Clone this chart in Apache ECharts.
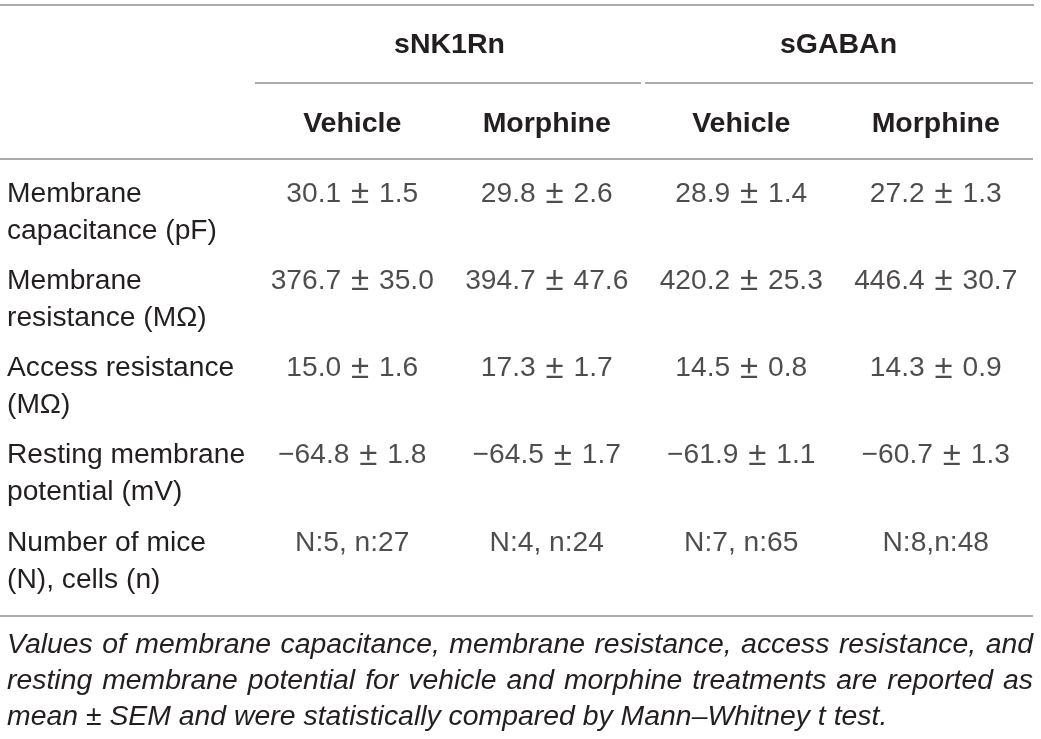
<!DOCTYPE html>
<html>
<head>
<meta charset="utf-8">
<script src="https://cdn.jsdelivr.net/npm/echarts@6/dist/echarts.min.js"></script>
<style>
  html, body { margin: 0; padding: 0; background: #fff; }
  #main { width: 1041px; height: 739px; }
</style>
</head>
<body>
<div id="main"></div>
<script>
// table contents
var groups = ["sNK1Rn", "sGABAn"];
var columns = ["Vehicle", "Morphine", "Vehicle", "Morphine"];
var rows = [
    "Membrane\ncapacitance (pF)",
    "Membrane\nresistance (MΩ)",
    "Access resistance\n(MΩ)",
    "Resting membrane\npotential (mV)",
    "Number of mice\n(N), cells (n)"
];
// mean and SEM per column, rows 0-3
var nk1VehMean = [30.1, 376.7, 15.0, -64.8];
var nk1VehSem = [1.5, 35.0, 1.6, 1.8];
var nk1MorMean = [29.8, 394.7, 17.3, -64.5];
var nk1MorSem = [2.6, 47.6, 1.7, 1.7];
var gabaVehMean = [28.9, 420.2, 14.5, -61.9];
var gabaVehSem = [1.4, 25.3, 0.8, 1.1];
var gabaMorMean = [27.2, 446.4, 14.3, -60.7];
var gabaMorSem = [1.3, 30.7, 0.9, 1.3];
var counts = ["N:5, n:27", "N:4, n:24", "N:7, n:65", "N:8,n:48"];

var caption = [
    "Values of membrane capacitance, membrane resistance, access resistance, and",
    "resting membrane potential for vehicle and morphine treatments are reported as",
    "mean ± SEM and were statistically compared by Mann–Whitney t test."
];

var TXT = "#231f20", RULE = "#8f8f8f", FONT = "Liberation Sans";
var BODY = 28.2;

function fmt(v) {
    var s = Math.abs(v).toFixed(1);
    return (v < 0 ? "\u2212" : "") + s;
}

var means = [nk1VehMean, nk1MorMean, gabaVehMean, gabaMorMean];
var sems = [nk1VehSem, nk1MorSem, gabaVehSem, gabaMorSem];
var cells = [];
for (var c = 0; c < columns.length; c++) {
    for (var r = 0; r < 4; r++) {
        cells.push([c, r, fmt(means[c][r]) + " {pm|±} " + sems[c][r].toFixed(1)]);
    }
    cells.push([c, 4, counts[c]]);
}

// justified caption, word by word
var ctx = document.createElement("canvas").getContext("2d");
var capSize = 28.4;
var capFont = "italic " + capSize + "px '" + FONT + "'";
ctx.font = capFont;
var capLeft = 7, capRight = 1033, capY = [645, 681, 717];
var captionEls = [];
caption.forEach(function (line, i) {
    var words = line.split(" ");
    var gap = ctx.measureText(" ").width;
    if (i < caption.length - 1) {
        var total = 0;
        words.forEach(function (w) { total += ctx.measureText(w).width; });
        gap = (capRight - capLeft - total) / (words.length - 1);
    }
    var x = capLeft;
    words.forEach(function (w) {
        captionEls.push({
            type: "text", left: x, top: capY[i] - capSize / 2,
            style: { text: w, fill: TXT, font: capFont }
        });
        x += ctx.measureText(w).width + gap;
    });
});

function rule(x1, x2, y) {
    return {
        type: "line", shape: { x1: x1, y1: y, x2: x2, y2: y },
        style: { stroke: RULE, lineWidth: 1.5 }
    };
}

var chart = echarts.init(document.getElementById("main"));
var option = {
    animation: false,
    backgroundColor: "#fff",
    grid: { left: 255, right: 8, top: 169, height: 436 },
    xAxis: [{
        type: "category", data: columns, position: "top",
        axisLine: { show: false }, axisTick: { show: false }, splitLine: { show: false },
        axisLabel: {
            margin: 45, verticalAlign: "middle", color: TXT,
            fontFamily: FONT, fontWeight: "bold", fontSize: 28.5
        }
    }, {
        type: "category", data: groups, position: "top",
        axisLine: { show: false }, axisTick: { show: false }, splitLine: { show: false },
        axisLabel: {
            margin: 124, verticalAlign: "middle", color: TXT,
            fontFamily: FONT, fontWeight: "bold", fontSize: 28.5
        }
    }],
    yAxis: {
        type: "category", data: rows, inverse: true,
        axisLine: { show: false }, axisTick: { show: false }, splitLine: { show: false },
        axisLabel: {
            align: "left", margin: 248, color: TXT,
            fontFamily: FONT, fontSize: BODY, lineHeight: 37
        }
    },
    series: [{
        type: "scatter", xAxisIndex: 0, symbolSize: 0, data: cells,
        label: {
            show: true, position: "inside", offset: [0, -18.5],
            color: TXT, fontFamily: FONT, fontSize: BODY, lineHeight: 37,
            formatter: function (p) { return p.value[2]; },
            rich: {
                pm: {
                    color: TXT, fontFamily: FONT, fontSize: 33, lineHeight: 37,
                    padding: [0, 2]
                }
            }
        }
    }],
    graphic: [
        rule(0, 1034, 5),
        rule(255, 641, 83),
        rule(645, 1033, 83),
        rule(0, 1033, 159),
        rule(0, 1033, 616)
    ].concat(captionEls)
};
chart.setOption(option);
window.addEventListener("resize", chart.resize);
</script>
</body>
</html>
